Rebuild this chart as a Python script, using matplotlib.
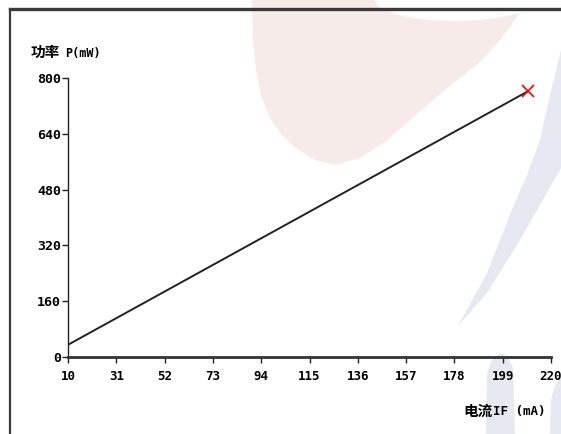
import matplotlib
matplotlib.use("Agg")
import matplotlib.pyplot as plt
from matplotlib.patches import Polygon, Ellipse
from matplotlib.lines import Line2D

# ---- data ----
current_mA = [10, 210]
power_mW = [35, 762]
x_ticks = [10, 31, 52, 73, 94, 115, 136, 157, 178, 199, 220]
y_ticks = [0, 160, 320, 480, 640, 800]
y_label_cn = "功率"
y_label_unit = "P(mW)"
x_label_cn = "电流"
x_label_unit = "IF (mA)"

W, H = 561, 434
fig = plt.figure(figsize=(W / 100, H / 100), dpi=100)
fig.patch.set_facecolor("white")

def P(x, y):
    return (x / W, 1 - y / H)

def add_poly(pts, color, z=0):
    fig.patches.append(Polygon([P(*p) for p in pts], closed=True, transform=fig.transFigure,
                               facecolor=color, edgecolor="none", zorder=z))

# background watermark shapes
PINK = "#f6ebe8"
BLUE = "#e6e8f2"
pink = [(252, 0), (527, 0), (515, 20), (500, 40), (480, 62), (455, 82), (433, 100),
        (410, 120), (385, 142), (360, 158), (335, 165), (315, 160), (298, 150),
        (282, 135), (270, 118), (261, 95), (256, 70), (253, 40)]
add_poly(pink, PINK)
fig.patches.append(Ellipse(P(455, 0), 160 / W, 42 / H, transform=fig.transFigure,
                           facecolor="white", edgecolor="none", zorder=0.1))
blue = [(561, 50), (550, 95), (540, 140), (527, 175), (513, 207), (487, 273), (458, 326),
        (487, 293), (520, 240), (561, 168)]
add_poly(blue, BLUE)
blue_b1 = [(486, 434), (487, 375), (491, 361), (500, 353), (508, 356), (513, 368), (515, 434)]
add_poly(blue_b1, BLUE)
blue_b2 = [(561, 378), (555, 385), (551, 400), (550, 434), (561, 434)]
add_poly(blue_b2, BLUE)

# frame lines
fig.lines.append(Line2D([P(10, 9)[0], 1.0], [P(10, 9)[1]] * 2, transform=fig.transFigure,
                        color="#3a3a3a", lw=2.4, zorder=1))
fig.lines.append(Line2D([P(10, 9)[0]] * 2, [P(10, 9)[1], 0.0], transform=fig.transFigure,
                        color="#3a3a3a", lw=1.6, zorder=1))

ax = fig.add_axes([68 / W, 77 / H, (551 - 68) / W, (357 - 78) / H])
ax.set_facecolor("none")
ax.set_zorder(2)

ax.plot(current_mA, power_mW, color="#222222", lw=1.4)
ax.plot(current_mA[-1:], power_mW[-1:], marker="x", color="red", ms=9, mew=1.2, ls="none",
        clip_on=False)

ax.set_xlim(10, 220)
ax.set_ylim(0, 800)
ax.set_xticks(x_ticks)
ax.set_yticks(y_ticks)

mono = "DejaVu Sans Mono"
ax.set_xticklabels([str(t) for t in x_ticks], family=mono, fontweight="bold", fontsize=9)
ax.set_yticklabels([str(t) for t in y_ticks], family=mono, fontweight="bold", fontsize=9.5)
ax.tick_params(axis="both", direction="out", length=4, width=1, color="#222222")
ax.tick_params(axis="x", pad=5)
ax.tick_params(axis="y", pad=1)

for s in ["top", "right"]:
    ax.spines[s].set_visible(False)
ax.spines["left"].set_linewidth(1.0)
ax.spines["left"].set_color("#222222")
ax.spines["bottom"].set_linewidth(2.0)
ax.spines["bottom"].set_color("#333333")

cjk = ["Noto Sans CJK SC", "DejaVu Sans"]
fig.text(*P(31, 52), y_label_cn, family=cjk, fontweight="bold", fontsize=10.5, va="center", ha="left")
fig.text(*P(65, 53), y_label_unit, family=mono, fontweight="bold", fontsize=8.5, va="center", ha="left")
fig.text(*P(463, 411), x_label_cn, family=cjk, fontweight="bold", fontsize=10.5, va="center", ha="left")
fig.text(*P(493, 412), x_label_unit, family=mono, fontweight="bold", fontsize=9, va="center", ha="left")

fig.savefig("out.png", dpi=100)
